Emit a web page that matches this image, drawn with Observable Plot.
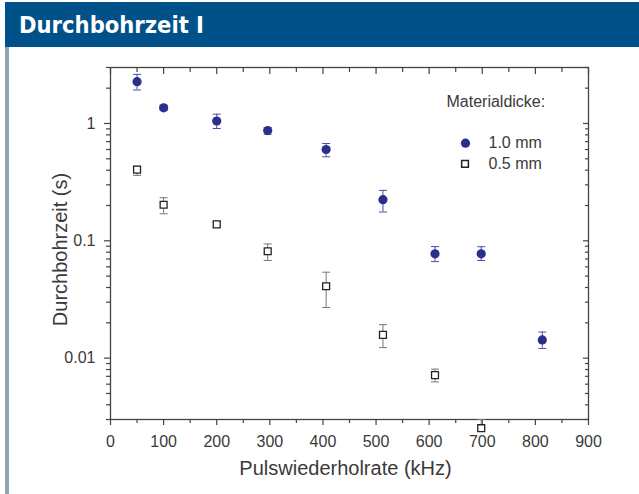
<!DOCTYPE html>
<html>
<head>
<meta charset="utf-8">
<script src="https://cdn.jsdelivr.net/npm/d3@7"></script>
<script src="https://cdn.jsdelivr.net/npm/@observablehq/plot@0.6"></script>
<style>
  html, body { margin: 0; padding: 0; background: #fff; }
  #page { position: relative; width: 639px; height: 494px; overflow: hidden; background: #fff; }
  #header { position: absolute; left: 5px; top: 2px; width: 634px; height: 45px; background: #005189; }
  #title { position: absolute; left: 14px; top: 9px; color: #fff; font: bold 23.5px "Liberation Sans Narrow", "DejaVu Sans Condensed", sans-serif; }
  #sidebar { position: absolute; left: 5px; top: 47px; width: 4px; height: 447px; background: #8ea5b3; }
  #chart { position: absolute; left: 0; top: 47px; }
</style>
</head>
<body>
<div id="page">
  <div id="header"><div id="title">Durchbohrzeit I</div></div>
  <div id="sidebar"></div>
  <div id="chart"></div>
</div>
<script>
// Pulse repetition rate (kHz)
const rates = [50, 100, 200, 296, 406, 513, 611, 698, 813];
// 1.0 mm material thickness: piercing time (s) with error bounds
const t10 = [2.27, 1.36, 1.05, 0.87, 0.60, 0.224, 0.0774, 0.0774, 0.0143];
const t10Lo = [1.93, 1.29, 0.906, 0.81, 0.52, 0.176, 0.0665, 0.068, 0.0121];
const t10Hi = [2.62, 1.43, 1.20, 0.92, 0.675, 0.269, 0.0893, 0.089, 0.0167];
// 0.5 mm material thickness
const t05 = [0.404, 0.203, 0.138, 0.0815, 0.041, 0.0158, 0.00716, 0.00253];
const t05Lo = [0.361, 0.170, 0.131, 0.068, 0.027, 0.0123, 0.00627, 0.00253];
const t05Hi = [0.431, 0.233, 0.146, 0.094, 0.054, 0.0193, 0.00806, 0.0030];

const xTicks = [0, 100, 200, 300, 400, 500, 600, 700, 800, 900];
const xMinor = [50, 150, 250, 350, 450, 550, 650, 750, 850];
const yTicks = [0.01, 0.1, 1];
const yTickLabels = ["0.01", "0.1", "1"];
const yMinor = [0.003, 0.004, 0.005, 0.006, 0.007, 0.008, 0.009,
  0.02, 0.03, 0.04, 0.05, 0.06, 0.07, 0.08, 0.09,
  0.2, 0.3, 0.4, 0.5, 0.6, 0.7, 0.8, 0.9, 2, 3];

const legendTitle = ["Materialdicke:"];
const legendLabels = ["1.0 mm", "0.5 mm"];
const xLabel = ["Pulswiederholrate (kHz)"];
const yLabel = ["Durchbohrzeit (s)"];

const rows10 = rates.map((x, i) => ({x, v: t10[i], lo: t10Lo[i], hi: t10Hi[i]}));
const rows05 = t05.map((v, i) => ({x: rates[i], v, lo: t05Lo[i], hi: t05Hi[i]}));

const cap = { draw(ctx, size) { const w = Math.sqrt(size / Math.PI); ctx.moveTo(-w, 0); ctx.lineTo(w, 0); } };

const blue = "#2b2f8c";
const axisColor = "#444";
const textColor = "#3a3a3a";

const chart = Plot.plot({
  width: 639,
  height: 447,
  marginTop: 20,
  marginBottom: 75,
  marginLeft: 110,
  marginRight: 51,
  style: { fontFamily: "'Liberation Sans', Arial, sans-serif", fontSize: "16px", color: textColor, background: "transparent", overflow: "visible" },
  x: { domain: [0, 900] },
  y: { type: "log", domain: [0.003, 3] },
  marks: [
    Plot.frame({ stroke: axisColor, strokeWidth: 1.3 }),
    // bottom axis
    Plot.axisX({ ticks: xTicks, tickSize: 6, tickPadding: 10, fontSize: 16, label: null, stroke: axisColor, strokeWidth: 1.2 }),
    Plot.axisX({ ticks: xMinor, tickSize: 4, tickFormat: () => "", label: null, stroke: axisColor, strokeWidth: 1.2 }),
    // top axis (inward ticks)
    Plot.axisX({ anchor: "top", ticks: xTicks, tickSize: -6, tickFormat: () => "", label: null, stroke: axisColor, strokeWidth: 1.2 }),
    Plot.axisX({ anchor: "top", ticks: xMinor, tickSize: -4, tickFormat: () => "", label: null, stroke: axisColor, strokeWidth: 1.2 }),
    // left axis
    Plot.axisY({ ticks: yTicks, tickSize: 6, tickPadding: 9, fontSize: 16, tickFormat: d => yTickLabels[yTicks.indexOf(d)], label: null, stroke: axisColor, strokeWidth: 1.2 }),
    Plot.axisY({ ticks: yMinor, tickSize: 4, tickFormat: () => "", label: null, stroke: axisColor, strokeWidth: 1.2 }),
    // right axis (inward ticks)
    Plot.axisY({ anchor: "right", ticks: yTicks, tickSize: -6, tickFormat: () => "", label: null, stroke: axisColor, strokeWidth: 1.2 }),
    Plot.axisY({ anchor: "right", ticks: yMinor, tickSize: -4, tickFormat: () => "", label: null, stroke: axisColor, strokeWidth: 1.2 }),
    // axis titles
    Plot.text(xLabel, { text: d => d, frameAnchor: "bottom", lineAnchor: "middle", textAnchor: "middle", dx: -4, dy: 49, fontSize: 20, fill: textColor }),
    Plot.text(yLabel, { text: d => d, frameAnchor: "left", lineAnchor: "middle", textAnchor: "middle", rotate: -90, dx: -50, dy: 6, fontSize: 20, fill: textColor }),
    // 0.5 mm series
    Plot.ruleX(rows05, { x: "x", y1: "lo", y2: "hi", stroke: "#777", strokeWidth: 1 }),
    Plot.dot(rows05, { x: "x", y: "lo", symbol: cap, r: 4, stroke: "#777", strokeWidth: 1 }),
    Plot.dot(rows05, { x: "x", y: "hi", symbol: cap, r: 4, stroke: "#777", strokeWidth: 1 }),
    Plot.dot(rows05, { x: "x", y: "v", symbol: "square", r: 3.9, fill: "white", stroke: "#222", strokeWidth: 1.3 }),
    // 1.0 mm series
    Plot.ruleX(rows10, { x: "x", y1: "lo", y2: "hi", stroke: "#4a4f9e", strokeWidth: 1 }),
    Plot.dot(rows10, { x: "x", y: "lo", symbol: cap, r: 4, stroke: "#4a4f9e", strokeWidth: 1 }),
    Plot.dot(rows10, { x: "x", y: "hi", symbol: cap, r: 4, stroke: "#4a4f9e", strokeWidth: 1 }),
    Plot.dot(rows10, { x: "x", y: "v", r: 4.6, fill: blue, stroke: "none" }),
    // legend
    Plot.text(legendTitle, { text: d => d, frameAnchor: "top-left", lineAnchor: "middle", textAnchor: "start", dx: 336, dy: 34, fontSize: 16, fill: textColor }),
    Plot.dot(legendLabels.slice(0, 1), { frameAnchor: "top-left", dx: 355, dy: 75.7, r: 4.6, fill: blue, stroke: "none" }),
    Plot.text(legendLabels.slice(0, 1), { text: d => d, frameAnchor: "top-left", lineAnchor: "middle", textAnchor: "start", dx: 378, dy: 75.7, fontSize: 16, fill: textColor }),
    Plot.dot(legendLabels.slice(1, 2), { frameAnchor: "top-left", dx: 354.5, dy: 96.3, symbol: "square", r: 3.8, fill: "white", stroke: "#222", strokeWidth: 1.5 }),
    Plot.text(legendLabels.slice(1, 2), { text: d => d, frameAnchor: "top-left", lineAnchor: "middle", textAnchor: "start", dx: 378, dy: 96.3, fontSize: 16, fill: textColor })
  ]
});
document.getElementById("chart").appendChild(chart);
</script>
</body>
</html>
